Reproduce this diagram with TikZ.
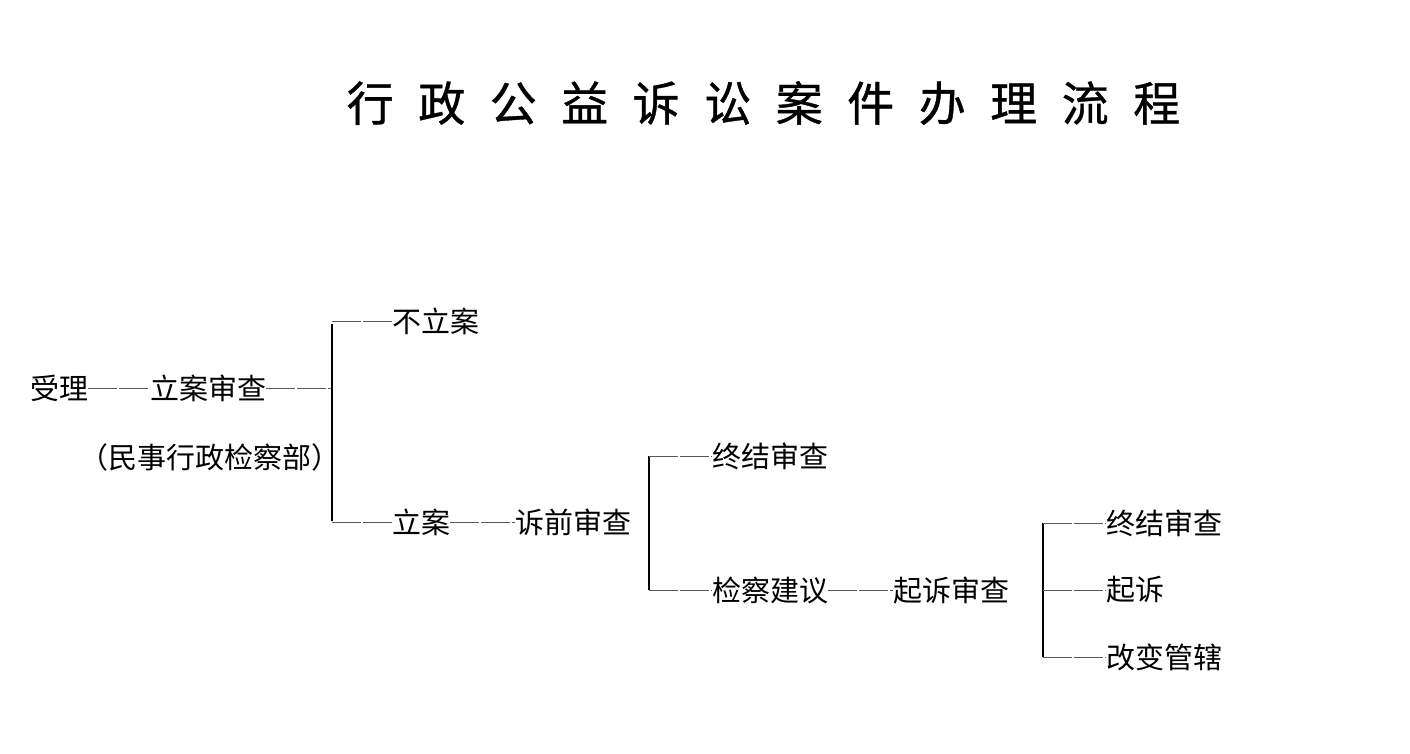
\documentclass[tikz,border=0pt]{standalone}
\usepackage{fontspec}
\newfontfamily\cjk{Noto Sans CJK SC}
\newfontfamily\cjkt[FakeBold=0.8]{Noto Sans CJK SC}
\begin{document}
\begin{tikzpicture}[x=1pt,y=-1pt,
  txt/.style={font=\cjk\fontsize{29pt}{29pt}\selectfont, inner sep=0pt, anchor=west, text=black},
  ttl/.style={font=\cjkt\fontsize{47pt}{47pt}\selectfont, inner sep=0pt, text=black},
  conn/.style={draw=black!65, line width=1pt, dash pattern=on 28.5pt off 2.5pt},
  bar/.style={draw=black, line width=2.6pt}]
\useasboundingbox[fill=white] (0,0) rectangle (1410,753);
\def\g{\hspace{24.5pt}}
\node[ttl] (title) at (763.5,103) {行\g 政\g 公\g 益\g 诉\g 讼\g 案\g 件\g 办\g 理\g 流\g 程};
% level 0
\node[txt] (shouli) at (30,388) {受理};
\node[txt] (lasc) at (150,388) {立案审查};
\node[txt] (bumen) at (79,457) {（民事行政检察部）};
% bar 1
\coordinate (b1t) at (332,321);
\coordinate (b1m) at (332,388);
\coordinate (b1b) at (332,522);
\node[txt] (bula) at (392,321) {不立案};
\node[txt] (la) at (392,522) {立案};
\node[txt] (sqsc) at (515,522) {诉前审查};
% bar 2
\coordinate (b2t) at (649,456);
\coordinate (b2b) at (649,590);
\node[txt] (zj1) at (712,456) {终结审查};
\node[txt] (jcjy) at (712,590) {检察建议};
\node[txt] (qssc) at (893,590) {起诉审查};
% bar 3
\coordinate (b3t) at (1043,523);
\coordinate (b3m) at (1043,590);
\coordinate (b3b) at (1043,657);
\node[txt] (zj2) at (1106,523) {终结审查};
\node[txt] (qs) at (1106,590) {起诉};
\node[txt] (gbgx) at (1106,657) {改变管辖};
% connectors
\draw[conn] (shouli.east) -- (lasc.west);
\draw[conn] (lasc.east) -- (b1m);
\draw[bar] ([yshift=-3pt]b1t) -- ([yshift=1pt]b1b);
\draw[conn] (b1t) -- (bula.west);
\draw[conn] (b1b) -- (la.west);
\draw[conn] (la.east) -- (sqsc.west);
\draw[bar, line width=2.3pt] (b2t) -- (b2b);
\draw[conn] (b2t) -- (zj1.west);
\draw[conn] (b2b) -- (jcjy.west);
\draw[conn] (jcjy.east) -- (qssc.west);
\draw[bar, line width=2pt] (b3t) -- (b3b);
\draw[conn] (b3t) -- (zj2.west);
\draw[conn] (b3m) -- (qs.west);
\draw[conn] (b3b) -- (gbgx.west);
\end{tikzpicture}
\end{document}
